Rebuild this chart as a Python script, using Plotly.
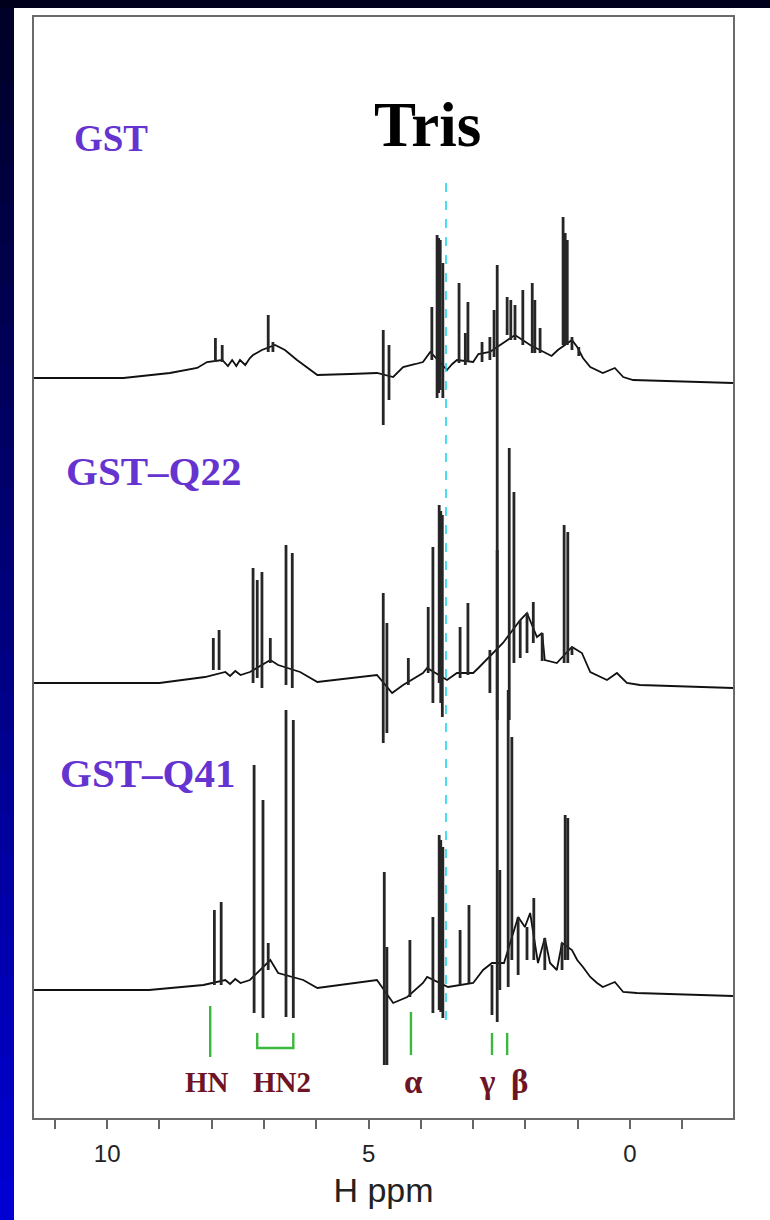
import plotly.graph_objects as go

# ---------------- data (ppm, intensity units) ----------------
OFFSETS = {"GST": 7.40, "GST-Q22": 4.35, "GST-Q41": 1.28}

# broad envelope / baseline of each spectrum
gst_base_ppm = [11.40, 9.69, 8.80, 8.28, 8.09, 7.80, 7.69, 7.61, 7.53, 7.46, 7.36, 7.27, 7.21, 7.04, 6.79,
                6.60, 6.37, 5.98, 5.35, 4.84, 4.53, 4.34, 4.10, 3.96, 3.82, 3.50, 3.40, 3.31, 3.00, 2.90,
                2.68, 2.49, 2.20, 1.91, 1.63, 1.50, 1.38, 1.11, 1.01, 0.90, 0.76, 0.52, 0.29, 0.13, -0.06,
                -1.97]
gst_base_int = [0.00, 0.00, 0.05, 0.10, 0.16, 0.18, 0.12, 0.18, 0.12, 0.18, 0.13, 0.20, 0.23, 0.28, 0.33,
                0.28, 0.18, 0.03, 0.04, 0.05, 0.01, 0.11, 0.14, 0.16, 0.26, 0.08, 0.14, 0.18, 0.16, 0.24,
                0.26, 0.33, 0.43, 0.33, 0.26, 0.22, 0.28, 0.38, 0.31, 0.20, 0.11, 0.05, 0.10, 0.01, -0.02,
                -0.05]

q22_base_ppm = [11.40, 9.00, 8.13, 7.74, 7.65, 7.55, 7.45, 7.27, 6.88, 6.73, 6.31, 5.98, 4.84, 4.55, 4.34,
                3.96, 3.88, 3.50, 3.31, 3.00, 2.90, 2.81, 2.43, 2.10, 1.97, 1.78, 1.68, 1.63, 1.40, 1.11,
                0.92, 0.76, 0.44, 0.25, 0.06, -0.19, -1.97]
q22_base_int = [0.00, 0.00, 0.06, 0.11, 0.07, 0.12, 0.08, 0.11, 0.23, 0.18, 0.11, 0.01, 0.08, -0.10, -0.02,
                0.10, 0.15, 0.03, 0.10, 0.10, 0.15, 0.20, 0.40, 0.63, 0.70, 0.46, 0.50, 0.23, 0.20, 0.36,
                0.30, 0.11, 0.03, 0.10, 0.00, -0.02, -0.05]

q41_base_ppm = [11.40, 9.20, 8.16, 7.74, 7.65, 7.55, 7.45, 7.27, 6.88, 6.73, 6.25, 5.98, 4.84, 4.53, 4.26,
                3.96, 3.88, 3.48, 3.00, 2.90, 2.81, 2.64, 2.41, 2.14, 2.01, 1.91, 1.76, 1.63, 1.53, 1.40,
                1.30, 1.11, 1.01, 0.90, 0.76, 0.63, 0.52, 0.29, 0.13, -0.13, -1.97]
q41_base_int = [0.00, 0.00, 0.05, 0.10, 0.06, 0.11, 0.07, 0.10, 0.30, 0.17, 0.10, 0.02, 0.10, -0.13, -0.07,
                0.07, 0.13, 0.03, 0.07, 0.14, 0.20, 0.27, 0.27, 0.73, 0.63, 0.77, 0.27, 0.52, 0.27, 0.20,
                0.47, 0.40, 0.30, 0.23, 0.13, 0.07, 0.03, 0.08, -0.02, -0.03, -0.06]

# sharp lines: position, upper end, lower end
gst_pk_ppm = [7.93, 7.80, 6.92, 6.83, 4.72, 4.61, 3.79, 3.69, 3.66, 3.63, 3.58, 3.27, 3.15, 3.10, 2.83,
              2.68, 2.60, 2.35, 2.28, 2.20, 2.05, 1.87, 1.82, 1.72, 1.28, 1.24, 1.20, 1.11, 0.98]
gst_pk_top = [0.40, 0.33, 0.63, 0.36, 0.48, 0.33, 0.71, 1.43, 1.40, 1.38, 1.15, 0.95, 0.45, 0.76, 0.36,
              0.41, 0.68, 0.81, 0.78, 0.73, 0.88, 0.95, 0.78, 0.50, 1.61, 1.45, 1.38, 0.41, 0.31]
gst_pk_bot = [0.16, 0.16, 0.26, 0.26, -0.47, -0.22, 0.18, -0.20, -0.15, -0.12, -0.20, 0.15, 0.13, 0.16, 0.16,
              0.18, 0.21, 0.43, 0.38, 0.38, 0.33, 0.25, 0.25, 0.25, 0.33, 0.33, 0.33, 0.28, 0.22]

q22_pk_ppm = [7.97, 7.86, 7.21, 7.13, 7.04, 6.88, 6.58, 6.46, 4.72, 4.65, 4.24, 3.86, 3.77, 3.65, 3.62,
              3.59, 3.25, 3.10, 2.68, 2.54, 2.31, 2.22, 2.10, 1.97, 1.85, 1.68, 1.26, 1.19, 1.11]
q22_pk_top = [0.45, 0.53, 1.15, 1.03, 1.11, 0.45, 1.38, 1.30, 0.90, 0.60, 0.25, 0.76, 1.36, 1.78, 1.72,
              1.68, 0.56, 0.80, 0.33, 4.18, 2.35, 1.91, 0.63, 0.70, 0.81, 0.50, 1.58, 1.51, 0.36]
q22_pk_bot = [0.13, 0.13, 0.00, 0.05, -0.05, 0.20, -0.02, -0.05, -0.60, -0.50, -0.02, 0.10, -0.20, 0.00, -0.20,
              -0.34, 0.05, 0.08, -0.10, -0.37, -0.37, 0.20, 0.25, 0.30, 0.40, 0.22, 0.20, 0.20, 0.28]

q41_pk_ppm = [7.95, 7.82, 7.19, 7.02, 6.92, 6.58, 6.44, 4.70, 4.65, 4.21, 3.77, 3.65, 3.62, 3.58, 3.25,
              3.08, 2.64, 2.54, 2.49, 2.33, 2.26, 2.14, 1.97, 1.84, 1.63, 1.30, 1.24, 1.19]
q41_pk_top = [0.80, 0.88, 2.25, 1.90, 0.47, 2.80, 2.70, 1.18, 0.43, 0.50, 0.73, 1.55, 1.50, 1.43, 0.60,
              0.85, 0.25, 4.40, 1.20, 3.00, 2.53, 0.73, 0.63, 0.92, 0.52, 0.47, 1.75, 1.72]
q41_pk_bot = [0.05, 0.05, -0.23, -0.28, 0.20, -0.27, -0.28, -0.75, -0.75, -0.07, -0.23, -0.20, -0.22, -0.28, 0.05,
              0.07, -0.25, -0.32, 0.00, 0.03, 0.30, 0.15, 0.30, 0.30, 0.20, 0.20, 0.30, 0.30]

# reference line and assignment marks
TRIS_PPM = 3.52
TRIS_SPAN = [0.98, 9.40]
marks_ppm = [8.03, 4.19, 2.64, 2.35]
marks_lo = [0.61, 0.63, 0.63, 0.63]
marks_hi = [1.12, 1.06, 0.85, 0.85]
hn2_ppm = [7.13, 6.44]
hn2_lo, hn2_hi = 0.70, 0.85
assign_labels = ["HN", "HN2", "α", "γ", "β"]
assign_ppm = [8.09, 6.65, 4.15, 2.73, 2.12]
assign_size = [29, 29, 33, 33, 33]
assign_y = 0.36

series_labels = ["GST", "GST–Q22", "GST–Q41"]
series_label_ppm = [9.92, 9.12, 9.22]
series_label_y = [9.80, 6.47, 3.45]
series_label_size = [37, 41, 41]

tick_vals = [11, 10, 9, 8, 7, 6, 5, 4, 3, 2, 1, 0, -1]
tick_text = ["", "10", "", "", "", "", "5", "", "", "", "", "0", ""]

# ---------------- figure ----------------
W, H = 770, 1220
ML, MR, MT, MB = 34, 37, 17, 102
PW, PH = W - ML - MR, H - MT - MB

fig = go.Figure()

spectra = [
    ("GST", gst_base_ppm, gst_base_int, gst_pk_ppm, gst_pk_top, gst_pk_bot),
    ("GST-Q22", q22_base_ppm, q22_base_int, q22_pk_ppm, q22_pk_top, q22_pk_bot),
    ("GST-Q41", q41_base_ppm, q41_base_int, q41_pk_ppm, q41_pk_top, q41_pk_bot),
]
for name, bp, bi, pp, pt, pb in spectra:
    off = OFFSETS[name]
    fig.add_trace(go.Scatter(x=bp, y=[v + off for v in bi], mode="lines",
                             line=dict(color="#111111", width=1.8), hoverinfo="skip", showlegend=False))
    xs, ys = [], []
    for p, t, b in zip(pp, pt, pb):
        xs += [p, p, None]
        ys += [b + off, t + off, None]
    fig.add_trace(go.Scatter(x=xs, y=ys, mode="lines",
                             line=dict(color="#262626", width=2.8), hoverinfo="skip", showlegend=False))

# Tris reference line
fig.add_trace(go.Scatter(x=[TRIS_PPM, TRIS_PPM], y=TRIS_SPAN, mode="lines",
                         line=dict(color="#1cd6e8", width=1.6, dash="dash"), hoverinfo="skip", showlegend=False))

# assignment marks
mx, my = [], []
for p, lo, hi in zip(marks_ppm, marks_lo, marks_hi):
    mx += [p, p, None]
    my += [lo, hi, None]
mx += [hn2_ppm[0], hn2_ppm[0], hn2_ppm[1], hn2_ppm[1]]
my += [hn2_hi, hn2_lo, hn2_lo, hn2_hi]
fig.add_trace(go.Scatter(x=mx, y=my, mode="lines", line=dict(color="#3cb83c", width=2.4),
                         hoverinfo="skip", showlegend=False))

for lab, p, s in zip(assign_labels, assign_ppm, assign_size):
    fig.add_annotation(x=p, y=assign_y, text="<b>" + lab + "</b>", showarrow=False, xanchor="center",
                       yanchor="middle", font=dict(family="Liberation Serif", size=s, color="#6e1424"))

for lab, p, y, s in zip(series_labels, series_label_ppm, series_label_y, series_label_size):
    fig.add_annotation(x=p, y=y, text="<b>" + lab + "</b>", showarrow=False, xanchor="center",
                       yanchor="middle", font=dict(family="Liberation Serif", size=s, color="#6533d0"))

fig.add_annotation(x=3.88, y=9.93, text="<b>Tris</b>", showarrow=False, xanchor="center", yanchor="middle",
                   font=dict(family="Liberation Serif", size=63, color="#000000"))

# slide edges (dark blue gradient strip on the left, dark band on top)
shapes = []
n = 30
for i in range(n):
    f = i / (n - 1)
    top_px = i * H / n
    bot_px = (i + 1) * H / n + 1
    shapes.append(dict(type="rect", xref="paper", yref="paper",
                       x0=-ML / PW, x1=(14 - ML) / PW,
                       y0=(H - MB - bot_px) / PH, y1=(H - MB - top_px) / PH,
                       line=dict(width=0), fillcolor=f"rgb(0,0,{int(40 + f * 170)})", layer="below"))
shapes.append(dict(type="rect", xref="paper", yref="paper", x0=-ML / PW, x1=(W - ML) / PW,
                   y0=(H - MB - 8) / PH, y1=(H - MB) / PH, line=dict(width=0),
                   fillcolor="#00001c", layer="below"))

fig.update_layout(
    width=W, height=H, margin=dict(l=ML, r=MR, t=MT, b=MB),
    paper_bgcolor="white", plot_bgcolor="white", shapes=shapes,
    xaxis=dict(range=[11.40, -1.97], tickvals=tick_vals, ticktext=tick_text, ticks="outside",
               ticklen=9, tickwidth=1.5, tickcolor="#666666", showline=True, linecolor="#6a6a6a",
               linewidth=2, mirror=True, showgrid=False, zeroline=False, ticklabelstandoff=4,
               tickfont=dict(family="Liberation Sans", size=24, color="#222222"),
               title=dict(text="H ppm", standoff=12, font=dict(family="Liberation Sans", size=34, color="#222222"))),
    yaxis=dict(range=[0, PH / 100], showticklabels=False, ticks="", showgrid=False, zeroline=False,
               showline=True, linecolor="#6a6a6a", linewidth=2, mirror=True, fixedrange=True),
)

fig.write_html("out.html")
